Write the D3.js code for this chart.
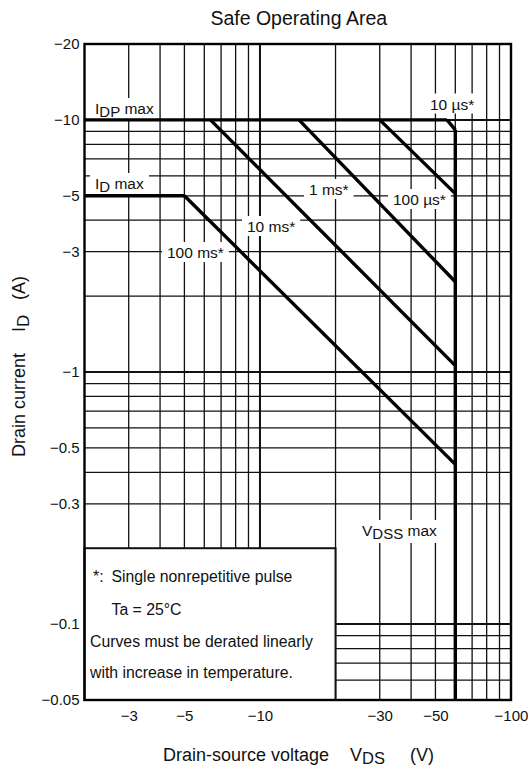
<!DOCTYPE html>
<html>
<head>
<meta charset="utf-8">
<script src="https://cdn.jsdelivr.net/npm/d3@7"></script>
<style>
  body { margin: 0; background: #fff; }
  svg { display: block; font-family: "Liberation Sans", Arial, Helvetica, sans-serif; }
</style>
</head>
<body>
<svg id="chart" width="528" height="769"></svg>
<script>
// Axis ranges (P-channel device: negative VDS and ID)
const vdsDomain = [-2, -100];
const idDomain = [-0.05, -20];

// Tick labels
const xTickValues = [-3, -5, -10, -30, -50, -100];
const yTickValues = [-20, -10, -5, -3, -1, -0.5, -0.3, -0.1, -0.05];

// Grid lines
const xGridValues = [-3, -4, -5, -6, -7, -8, -9, -10, -20, -30, -40, -50, -60, -70, -80, -90];
const yGridValues = [-10, -9, -8, -7, -6, -5, -4, -3, -2, -1, -0.9, -0.8, -0.7, -0.6,
                     -0.5, -0.4, -0.3, -0.1, -0.09, -0.08, -0.07, -0.06];
const majorGridValues = [-10, -1, -0.1];

// SOA boundary segments as [VDS (V), ID (A)]
const idpMax     = [[-2, -10], [-55.6, -10]];
const idMax      = [[-2, -5], [-5, -5]];
const pulse10us  = [[-55.6, -10], [-60, -9.13]];
const pulse100us = [[-30, -10], [-60, -5.1]];
const pulse1ms   = [[-14.3, -10], [-60, -2.28]];
const pulse10ms  = [[-6.35, -10], [-60, -1.06]];
const pulse100ms = [[-5, -5], [-60, -0.43]];
const vdssMax    = [[-60, -9.13], [-60, -0.05]];

// Corner of the note box (VDS, ID)
const noteCorner = [-20, -0.2];

const svg = d3.select("#chart");
const plot = { left: 84.5, right: 511, top: 44, bottom: 700 };

const x = d3.scaleLog().domain(vdsDomain).range([plot.left, plot.right]);
const y = d3.scaleLog().domain(idDomain).range([plot.bottom, plot.top]);

const ink = "#111";

// Title
svg.append("text")
  .attr("x", (plot.left + plot.right) / 2 + 1)
  .attr("y", 25)
  .attr("text-anchor", "middle")
  .attr("font-size", 19.5)
  .attr("fill", "#111")
  .text("Safe Operating Area");

// Grid
const grid = svg.append("g");
grid.selectAll("line.vx").data(xGridValues).join("line")
  .attr("x1", d => x(d)).attr("x2", d => x(d))
  .attr("y1", plot.top).attr("y2", plot.bottom)
  .attr("stroke", ink)
  .attr("stroke-width", d => majorGridValues.includes(d) ? 2 : 1.3);

grid.selectAll("line.hy").data(yGridValues).join("line")
  .attr("x1", plot.left).attr("x2", plot.right)
  .attr("y1", d => y(d)).attr("y2", d => y(d))
  .attr("stroke", ink)
  .attr("stroke-width", d => majorGridValues.includes(d) ? 2 : 1.3);

// Note box in the lower-left corner
const note = svg.append("g");
note.append("rect")
  .attr("x", plot.left)
  .attr("y", y(noteCorner[1]))
  .attr("width", x(noteCorner[0]) - plot.left)
  .attr("height", plot.bottom - y(noteCorner[1]))
  .attr("fill", "#fff")
  .attr("stroke", ink)
  .attr("stroke-width", 2);

const noteText = note.append("g").attr("font-size", 15.8).attr("fill", "#111");
noteText.append("text").attr("x", 93).attr("y", 582).text("*:");
noteText.append("text").attr("x", 111.5).attr("y", 582).text("Single nonrepetitive pulse");
noteText.append("text").attr("x", 111.5).attr("y", 615).text("Ta = 25°C");
noteText.append("text").attr("x", 90).attr("y", 646.5).text("Curves must be derated linearly");
noteText.append("text").attr("x", 90).attr("y", 678).text("with increase in temperature.");

// Curve labels with white backing
const labelLayer = svg.append("g");
function addLabel(px, py, parts) {
  const g = labelLayer.append("g");
  const t = g.append("text")
    .attr("x", px).attr("y", py)
    .attr("font-size", 15.5).attr("fill", "#111");
  let shifted = false;
  parts.forEach(p => {
    const ts = t.append("tspan").text(p.t);
    if (p.sub) {
      ts.attr("font-size", 15).attr("dy", 3);
      shifted = true;
    } else if (shifted) {
      ts.attr("dy", -3);
      shifted = false;
    }
  });
  const b = t.node().getBBox();
  g.insert("rect", "text")
    .attr("x", b.x - 5).attr("y", b.y - 2)
    .attr("width", b.width + 10).attr("height", b.height + 3)
    .attr("fill", "#fff");
}

addLabel(95, 114, [{ t: "I" }, { t: "DP", sub: true }, { t: " max" }]);
addLabel(95, 189, [{ t: "I" }, { t: "D", sub: true }, { t: " max" }]);
addLabel(430, 109.5, [{ t: "10 µs*" }]);
addLabel(309, 195, [{ t: "1 ms*" }]);
addLabel(393, 205, [{ t: "100 µs*" }]);
addLabel(247, 232, [{ t: "10 ms*" }]);
addLabel(167, 258, [{ t: "100 ms*" }]);
addLabel(362, 536, [{ t: "V" }, { t: "DSS", sub: true }, { t: " max" }]);

// SOA boundary
const line = d3.line().x(d => x(d[0])).y(d => y(d[1]));
const curves = [idpMax, idMax, pulse10us, pulse100us, pulse1ms, pulse10ms, pulse100ms, vdssMax];
svg.append("g").selectAll("path").data(curves).join("path")
  .attr("d", line)
  .attr("fill", "none")
  .attr("stroke", "#000")
  .attr("stroke-width", 3.4)
  .attr("stroke-linejoin", "miter");

// Plot frame
svg.append("rect")
  .attr("x", plot.left).attr("y", plot.top)
  .attr("width", plot.right - plot.left)
  .attr("height", plot.bottom - plot.top)
  .attr("fill", "none")
  .attr("stroke", "#000")
  .attr("stroke-width", 2.4);

// Axes (labels only)
const fmt = d3.format("");
const yAxis = svg.append("g")
  .attr("transform", `translate(${plot.left},0)`)
  .call(d3.axisLeft(y).tickValues(yTickValues).tickFormat(fmt).tickSize(0).tickPadding(5));
const xAxis = svg.append("g")
  .attr("transform", `translate(0,${plot.bottom})`)
  .call(d3.axisBottom(x).tickValues(xTickValues).tickFormat(fmt).tickSize(0).tickPadding(10));
[xAxis, yAxis].forEach(a => {
  a.select(".domain").remove();
  a.selectAll("text")
    .attr("font-size", 15)
    .attr("font-family", "\"Liberation Sans\", Arial, sans-serif")
    .attr("fill", "#111");
});

// Axis titles
const xTitle = svg.append("text").attr("y", 760.5).attr("font-size", 18).attr("fill", "#111");
xTitle.append("tspan").attr("x", 163).text("Drain-source voltage");
xTitle.append("tspan").attr("x", 350).text("V");
xTitle.append("tspan").attr("font-size", 16.5).attr("dy", 3.5).text("DS");
xTitle.append("tspan").attr("x", 410).attr("dy", -3.5).text("(V)");

const yTitle = svg.append("text")
  .attr("transform", "translate(25,0) rotate(-90)")
  .attr("font-size", 18).attr("fill", "#111");
yTitle.append("tspan").attr("x", -457).text("Drain current");
yTitle.append("tspan").attr("x", -332).text("I");
yTitle.append("tspan").attr("font-size", 17).attr("dy", 4).text("D");
yTitle.append("tspan").attr("x", -300).attr("dy", -4).text("(A)");
</script>
</body>
</html>
